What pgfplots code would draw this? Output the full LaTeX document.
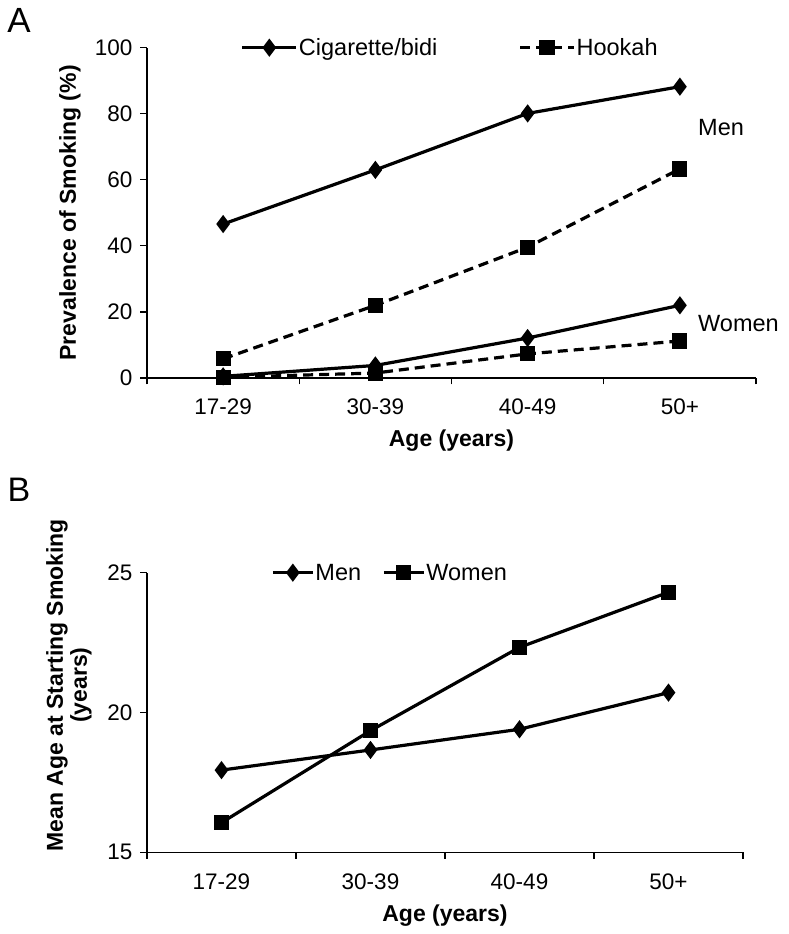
\documentclass[border=0pt]{standalone}
\usepackage{pgfplots}
\pgfplotsset{compat=1.18}
\usepackage{fontspec}
\setmainfont{Liberation Sans}
\pgfplotstableread{
x cigmen hookmen cigwom hookwom
0 46.6 5.8 0.5 0.2
1 63.0 22.0 3.8 1.5
2 80.1 39.6 12.1 7.3
3 88.2 63.3 22.0 11.2
}\prevtable
\pgfplotstableread{
x men women
0 17.94 16.06
1 18.66 19.35
2 19.40 22.33
3 20.71 24.30
}\agetable
\begin{document}
\begin{tikzpicture}
\path[use as bounding box] (0pt,0pt) rectangle (788pt,934pt);
\pgfplotsset{
  common/.style={
    scale only axis,
    clip=false,
    axis lines*=left,
    axis line style={line width=1.2pt, black},
    tick align=outside,
    major tick length=6.5pt,
    tick style={line width=1.2pt, black},
    xmin=-0.5, xmax=3.5,
    xtick={-0.5,0.5,1.5,2.5,3.5},
    xticklabels={},
    extra x ticks={0,1,2,3},
    extra x tick labels={17-29,30-39,40-49,50+},
    extra x tick style={major tick length=0pt},
    /pgf/number format/assume math mode=true,
    tick label style={font=\fontsize{22.5}{26}\selectfont},
    xticklabel style={inner sep=0pt, anchor=north, yshift=-21pt},
    yticklabel style={inner sep=0pt, anchor=east, xshift=-8pt},
    xlabel={Age (years)},
    xlabel style={at={(axis description cs:0.5,0)}, anchor=north, inner sep=0pt, yshift=-52pt, font=\bfseries\fontsize{23}{27}\selectfont},
    every axis plot/.append style={line width=3.2pt, black, mark options={solid, fill=black}},
    legend style={draw=none, fill=none, font=\fontsize{23.5}{27}\selectfont, legend columns=2, anchor=center, inner sep=0pt, nodes={inner sep=1pt}},
    legend cell align=left,
  }
}
% Panel A
\begin{axis}[common,
  at={(147pt,556pt)}, anchor=south west,
  width=609pt, height=330.3pt,
  ymin=0, ymax=100, ytick={0,20,40,60,80,100},
  ylabel={Prevalence of Smoking (\%)},
  ylabel style={at={(axis description cs:-0.1264,0.5)}, anchor=center, inner sep=0pt, font=\bfseries\fontsize{23}{27}\selectfont},
  legend style={at={(axis description cs:0.497,1)}, /tikz/every even column/.append style={column sep=80pt}},
  legend image code/.code={\draw[mark repeat=2,mark phase=2,#1] plot coordinates {(0pt,0pt) (27pt,0pt) (54pt,0pt)};},
]
\addplot[mark=diamond*, mark size=6.5pt] table[x=x,y=cigmen] {\prevtable};
\addlegendentry{Cigarette/bidi}
\addplot[dash pattern=on 10pt off 6pt, mark=square*, mark size=6pt] table[x=x,y=hookmen] {\prevtable};
\addlegendentry{Hookah}
\addplot[mark=diamond*, mark size=6.5pt, forget plot] table[x=x,y=cigwom] {\prevtable};
\addplot[dash pattern=on 10pt off 6pt, mark=square*, mark size=6pt, forget plot] table[x=x,y=hookwom] {\prevtable};
\end{axis}
% Panel B
\begin{axis}[common,
  at={(147pt,81.7pt)}, anchor=south west,
  width=596pt, height=279.6pt,
  ymin=15, ymax=25, ytick={15,20,25},
  ylabel={Mean Age at Starting Smoking\\(years)},
  ylabel style={at={(axis description cs:-0.131,0.598)}, anchor=center, align=center, inner sep=0pt, font=\bfseries\fontsize{23}{24}\selectfont},
  legend style={at={(axis description cs:0.407,1)}, /tikz/every even column/.append style={column sep=20pt}},
  legend image code/.code={\draw[mark repeat=2,mark phase=2,#1] plot coordinates {(0pt,0pt) (20pt,0pt) (40pt,0pt)};},
]
\addplot[mark=diamond*, mark size=6.5pt] table[x=x,y=men] {\agetable};
\addlegendentry{Men}
\addplot[mark=square*, mark size=6pt] table[x=x,y=women] {\agetable};
\addlegendentry{Women}
\end{axis}
\node[anchor=center, inner sep=0pt, font=\fontsize{35}{40}\selectfont] at (19pt,914pt) {A};
\node[anchor=center, inner sep=0pt, font=\fontsize{34}{40}\selectfont] at (19pt,444pt) {B};
\node[anchor=west, inner sep=0pt, font=\fontsize{23.5}{27}\selectfont] at (698pt,806pt) {Men};
\node[anchor=west, inner sep=0pt, font=\fontsize{23.5}{27}\selectfont] at (698pt,610pt) {Women};
\end{tikzpicture}
\end{document}
